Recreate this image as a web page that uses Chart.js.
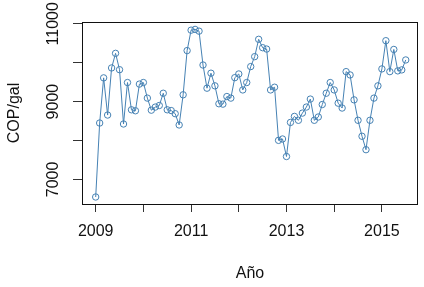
<!DOCTYPE html>
<html>
<head>
<meta charset="utf-8">
<script src="https://cdn.jsdelivr.net/npm/chart.js@4/dist/chart.umd.min.js"></script>
<style>
  html, body { margin: 0; padding: 0; background: #fff; }
  #wrap { width: 424px; height: 287px; }
</style>
</head>
<body>
<div id="wrap"><canvas id="chart_cop"></canvas></div>
<script>
// precio mensual COP/gal, enero 2009 - julio 2015
var anioInicio = 2009;
var valores = [
  6550, 8450, 9610, 8655, 9865, 10240, 9820, 8425, 9490, 8790, 8765, 9450,
  9490, 9090, 8780, 8860, 8900, 9215, 8790, 8770, 8690, 8400, 9175, 10310,
  10835, 10855, 10810, 9940, 9345, 9730, 9405, 8945, 8935, 9130, 9090, 9615,
  9710, 9300, 9490, 9900, 10155, 10600, 10385, 10350, 9300, 9370, 8005, 8040,
  7590, 8465, 8620, 8520, 8705, 8860, 9065, 8520, 8605, 8925, 9215, 9490,
  9300, 8960, 8835, 9770, 9685, 9045, 8520, 8110, 7765, 8520, 9090, 9405,
  9840, 10565, 9770, 10340, 9790, 9815, 10070
];
var xTicks = [2009, 2010, 2011, 2012, 2013, 2014, 2015];
var xLabels = ['2009', '', '2011', '', '2013', '', '2015'];
var yTicks = [7000, 8000, 9000, 10000, 11000];
var yLabels = ['7000', '', '9000', '', '11000'];

var puntos = valores.map(function(v, i) {
  return {x: anioInicio + i / 12, y: v};
});

var fuente = {family: "'Liberation Sans', Arial, sans-serif", size: 16};

var chart_cop = new Chart(document.getElementById('chart_cop'), {
    type: 'scatter',
    data: {
        datasets: [
            {
                label: 'COP/gal',
                data: puntos,
                showLine: true,
                borderColor: '#4682B4',
                borderWidth: 1,
                pointStyle: 'circle',
                pointRadius: 3.2,
                pointBorderWidth: 1,
                pointBorderColor: '#4682B4',
                pointBackgroundColor: 'rgba(0,0,0,0)',
                tension: 0
            }
        ]
    },
    options: {
        animation: false,
        responsive: true,
        maintainAspectRatio: false,
        layout: {
            padding: {left: 0, right: 6, top: 22, bottom: 0}
        },
        plugins: {
            legend: {display: false},
            tooltip: {enabled: false}
        },
        scales: {
            x: {
                type: 'linear',
                min: 2008.713,
                max: 2015.757,
                afterBuildTicks: function(scale) {
                    scale.ticks = xTicks.map(function(v) { return {value: v}; });
                },
                afterFit: function(scale) { scale.height = 83; },
                ticks: {
                    autoSkip: false,
                    maxRotation: 0,
                    padding: 10,
                    color: '#111',
                    font: fuente,
                    callback: function(value, index) {
                        return xLabels[index];
                    }
                },
                grid: {
                    drawOnChartArea: false,
                    drawTicks: true,
                    tickLength: 8,
                    tickColor: '#333',
                    tickWidth: 1
                },
                border: {display: false},
                title: {
                    display: true,
                    text: 'Año',
                    color: '#111',
                    font: fuente,
                    padding: {top: 0, bottom: 4}
                }
            },
            y: {
                type: 'linear',
                min: 6370,
                max: 11045,
                afterBuildTicks: function(scale) {
                    scale.ticks = yTicks.map(function(v) { return {value: v}; });
                },
                afterFit: function(scale) { scale.width = 82; },
                ticks: {
                    autoSkip: false,
                    minRotation: 90,
                    maxRotation: 90,
                    crossAlign: 'center',
                    padding: -2,
                    color: '#111',
                    font: fuente,
                    callback: function(value, index) {
                        return yLabels[index];
                    }
                },
                grid: {
                    drawOnChartArea: false,
                    drawTicks: true,
                    tickLength: 9,
                    tickColor: '#333',
                    tickWidth: 1
                },
                border: {display: false},
                title: {
                    display: true,
                    text: 'COP/gal',
                    color: '#111',
                    font: fuente,
                    padding: {top: 5, bottom: 0}
                }
            }
        }
    },
    plugins: [{
        id: 'caja',
        beforeDraw: function(chart) {
            var ctx = chart.ctx;
            ctx.save();
            ctx.fillStyle = 'white';
            ctx.fillRect(0, 0, chart.width, chart.height);
            ctx.restore();
        },
        afterDraw: function(chart) {
            var a = chart.chartArea;
            var ctx = chart.ctx;
            ctx.save();
            ctx.strokeStyle = '#111';
            ctx.lineWidth = 1;
            ctx.strokeRect(Math.round(a.left) + 0.5, Math.round(a.top) + 0.5,
                Math.round(a.right - a.left) - 1, Math.round(a.bottom - a.top));
            ctx.restore();
        }
    }]
});
</script>
</body>
</html>
